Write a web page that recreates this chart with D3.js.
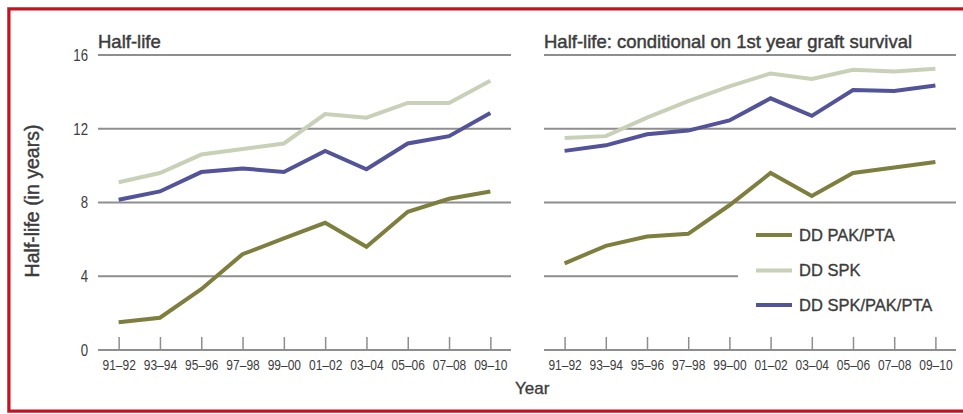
<!DOCTYPE html>
<html>
<head>
<meta charset="utf-8">
<script src="https://cdn.jsdelivr.net/npm/d3@7"></script>
<style>
  html, body { margin: 0; padding: 0; background: #fff; }
  svg { display: block; }
  .sans { font-family: 'Liberation Sans', Arial, sans-serif; }
</style>
</head>
<body>
<svg id="chart" width="963" height="414"></svg>
<script>
// ---- data ----
const categories = ["91\u201392","93\u201394","95\u201396","97\u201398","99\u201300","01\u201302","03\u201304","05\u201306","07\u201308","09\u201310"];
const yTicks = [0, 4, 8, 12, 16];
const seriesNames = ["DD PAK/PTA", "DD SPK", "DD SPK/PAK/PTA"];

// Left panel: Half-life
const leftPAK    = [1.5, 1.75, 3.3, 5.2, 6.05, 6.9, 5.6, 7.5, 8.2, 8.6];
const leftSPK    = [9.1, 9.6, 10.6, 10.9, 11.2, 12.8, 12.6, 13.4, 13.4, 14.6];
const leftSPKPAK = [8.15, 8.6, 9.65, 9.85, 9.65, 10.8, 9.8, 11.2, 11.6, 12.85];

// Right panel: conditional on 1st year graft survival
const rightPAK    = [4.7, 5.65, 6.15, 6.3, 7.85, 9.6, 8.35, 9.6, 9.9, 10.2];
const rightSPK    = [11.5, 11.6, 12.6, 13.5, 14.3, 15.0, 14.7, 15.2, 15.1, 15.25];
const rightSPKPAK = [10.8, 11.1, 11.7, 11.9, 12.45, 13.65, 12.7, 14.1, 14.05, 14.35];

const titles = ["Half-life", "Half-life: conditional on 1st year graft survival"];

// ---- styles ----
const colors = ["#7e7e3f", "#c8d0b7", "#53539a"];
const gridColor = "#8e8e8e";
const textColor = "#3c3c3c";
const squeeze = 0.8;

const svg = d3.select("#chart");

// frame
svg.append("rect").attr("x", 7.5).attr("y", 7.5).attr("width", 1000).attr("height", 405)
  .attr("fill", "none").attr("stroke", "#aaa").attr("stroke-width", 1);
svg.append("rect").attr("x", 9).attr("y", 9).attr("width", 1000).attr("height", 402)
  .attr("fill", "none").attr("stroke", "#c8101e").attr("stroke-width", 3);

const y = d3.scaleLinear().domain([0, 16]).range([350, 55]);

const panels = [
  { x0: 98, x1: 511, data: [leftPAK, leftSPK, leftSPKPAK], title: titles[0], yLabels: true },
  { x0: 544, x1: 956, data: [rightPAK, rightSPK, rightSPKPAK], title: titles[1], yLabels: false }
];

panels.forEach(p => {
  const x = d3.scalePoint().domain(categories).range([p.x0, p.x1]).padding(0.5);
  const g = svg.append("g");

  // gridlines
  yTicks.forEach(t => {
    let xe = p.x1;
    if (!p.yLabels && t === 4) xe = 738; // legend interrupts
    g.append("line").attr("x1", p.x0).attr("x2", xe)
      .attr("y1", y(t)).attr("y2", y(t))
      .attr("stroke", gridColor).attr("stroke-width", 2);
  });

  // x axis ticks (upward) and labels
  const xAxis = d3.axisBottom(x).tickSize(-13).tickPadding(9).tickSizeOuter(0);
  const ax = g.append("g").attr("transform", `translate(0,${y(0)})`).call(xAxis);
  ax.select(".domain").remove();
  ax.selectAll(".tick line").attr("stroke", gridColor).attr("stroke-width", 1.5);
  ax.selectAll(".tick text").attr("class", "sans").attr("font-size", 15)
    .attr("fill", textColor).attr("transform", `scale(${squeeze},1)`);

  // y axis labels
  if (p.yLabels) {
    const yAxis = d3.axisLeft(y).tickValues(yTicks).tickSize(0).tickPadding(10);
    const ay = g.append("g").attr("transform", `translate(${p.x0},0)`).call(yAxis);
    ay.select(".domain").remove();
    ay.selectAll(".tick text").attr("class", "sans").attr("font-size", 16.5)
      .attr("fill", textColor).attr("x", -10 / squeeze)
      .attr("transform", `scale(${squeeze},1)`);
  }

  // lines (draw light first, then others)
  const line = d3.line().x((d, i) => x(categories[i])).y(d => y(d));
  [1, 0, 2].forEach(si => {
    g.append("path").datum(p.data[si]).attr("d", line)
      .attr("fill", "none").attr("stroke", colors[si]).attr("stroke-width", 4)
      .attr("stroke-linejoin", "miter").attr("stroke-linecap", "butt");
  });

  // title
  g.append("text").attr("class", "sans").attr("x", p.x0).attr("y", 48)
    .attr("font-size", 18.5).attr("fill", textColor)
    .attr("stroke", textColor).attr("stroke-width", 0.45)
    .text(p.title);
});

// y axis label
svg.append("text").attr("class", "sans")
  .attr("transform", "translate(39,201) rotate(-90)")
  .attr("text-anchor", "middle").attr("font-size", 19.5)
  .attr("fill", textColor).attr("stroke", textColor).attr("stroke-width", 0.45)
  .text("Half-life (in years)");

// x axis label
svg.append("text").attr("class", "sans").attr("x", 515).attr("y", 394)
  .attr("font-size", 17).attr("fill", textColor)
  .attr("stroke", textColor).attr("stroke-width", 0.35)
  .text("Year");

// legend
const legendY = [235, 270.5, 305];
seriesNames.forEach((name, i) => {
  svg.append("line").attr("x1", 756).attr("x2", 792)
    .attr("y1", legendY[i]).attr("y2", legendY[i])
    .attr("stroke", colors[i]).attr("stroke-width", 4);
  svg.append("text").attr("class", "sans").attr("x", 799).attr("y", legendY[i])
    .attr("dy", "0.36em").attr("font-size", 16.5).attr("fill", textColor)
    .attr("stroke", textColor).attr("stroke-width", 0.35)
    .text(name);
});
</script>
</body>
</html>
